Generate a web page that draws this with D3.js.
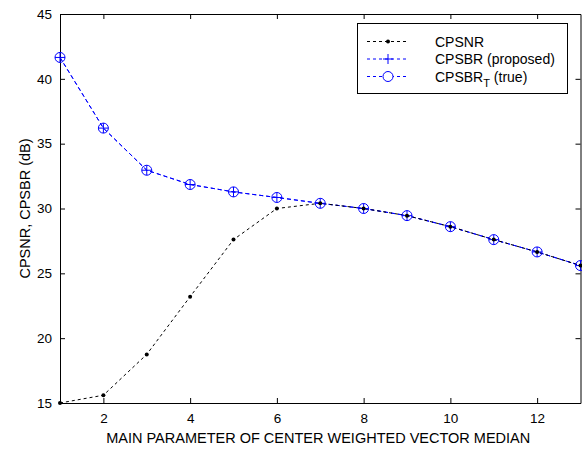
<!DOCTYPE html>
<html>
<head>
<meta charset="utf-8">
<script src="https://cdnjs.cloudflare.com/ajax/libs/d3/7.8.5/d3.min.js"></script>
<style>
  body { margin: 0; background: #fff; }
  text { font-family: "Liberation Sans", Arial, sans-serif; fill: #000; }
</style>
</head>
<body>
<div id="viz"></div>
<script>
var params = [1, 2, 3, 4, 5, 6, 7, 8, 9, 10, 11, 12, 13]
var cpsnr = [15.0, 15.6, 18.75, 23.2, 27.6, 30.0, 30.4, 30.0, 29.45, 28.6, 27.6, 26.65, 25.6]
var cpsbr = [41.65, 36.2, 32.95, 31.85, 31.28, 30.85, 30.4, 30.0, 29.45, 28.6, 27.6, 26.65, 25.6]
var cpsbrTrue = [41.65, 36.2, 32.95, 31.85, 31.28, 30.85, 30.4, 30.0, 29.45, 28.6, 27.6, 26.65, 25.6]
var xTicks = [2, 4, 6, 8, 10, 12]
var yTicks = [15, 20, 25, 30, 35, 40, 45]

var margin = {top: 14, bottom: 46, left: 60, right: 1.5};
var W = 582, H = 449,
    width = W - margin.left - margin.right,
    height = H - margin.top - margin.bottom;

var blue = '#0000ff';

var svg = d3.select('#viz').append('svg')
  .attr('width', W)
  .attr('height', H)

var g = svg.append('g')
  .attr('transform', 'translate(' + margin.left + ',' + margin.top + ')')

var xScale = d3.scaleLinear().domain([1, 13]).range([0, width])
var yScale = d3.scaleLinear().domain([15, 45]).range([height, 0])

g.append('clipPath').attr('id', 'clip')
  .append('rect').attr('x', 0).attr('y', 0).attr('width', width).attr('height', height)

// axes, ticks pointing inward like matlab
var xBottom = d3.axisBottom(xScale).tickValues(xTicks).tickSizeInner(-5).tickSizeOuter(0).tickPadding(10)
var xTop = d3.axisTop(xScale).tickValues(xTicks).tickSizeInner(-5).tickSizeOuter(0).tickFormat('')
var yLeft = d3.axisLeft(yScale).tickValues(yTicks).tickSizeInner(-5).tickSizeOuter(0).tickPadding(8)
var yRight = d3.axisRight(yScale).tickValues(yTicks).tickSizeInner(-5).tickSizeOuter(0).tickFormat('')

function styleAxis(sel) {
  sel.selectAll('path').attr('stroke', '#000')
  sel.selectAll('line').attr('stroke', '#000')
  sel.selectAll('text').style('font-size', '13.5px').attr('fill', '#000')
}

g.append('g').attr('transform', 'translate(0,' + height + ')').call(xBottom).call(styleAxis)
g.append('g').call(xTop).call(styleAxis)
g.append('g').call(yLeft).call(styleAxis)
g.append('g').attr('transform', 'translate(' + width + ',0)').call(yRight).call(styleAxis)

svg.selectAll('.domain').attr('stroke-width', 1)

// axis labels
svg.append('text')
  .attr('x', margin.left + width / 2 - 2)
  .attr('y', 443)
  .attr('text-anchor', 'middle')
  .style('font-size', '14.5px')
  .text('MAIN PARAMETER OF CENTER WEIGHTED VECTOR MEDIAN')

svg.append('text')
  .attr('transform', 'translate(30,' + (margin.top + height / 2) + ') rotate(-90)')
  .attr('text-anchor', 'middle')
  .style('font-size', '14.5px')
  .text('CPSNR, CPSBR (dB)')

var plot = g.append('g').attr('clip-path', 'url(#clip)')

function lineFor(vals) {
  return d3.line()
    .x(function(d, i) { return xScale(params[i]); })
    .y(function(d) { return yScale(d); })(vals)
}

// blue series
plot.append('path')
  .attr('d', lineFor(cpsbrTrue))
  .attr('fill', 'none')
  .attr('stroke', blue)
  .attr('stroke-dasharray', '4,3')
plot.append('path')
  .attr('d', lineFor(cpsbr))
  .attr('fill', 'none')
  .attr('stroke', blue)
  .attr('stroke-dasharray', '4,3')

g.selectAll('.circ').data(cpsbrTrue).enter().append('circle')
  .attr('cx', function(d, i) { return xScale(params[i]); })
  .attr('cy', function(d) { return yScale(d); })
  .attr('r', 5)
  .attr('fill', 'none')
  .attr('stroke', blue)

g.selectAll('.plus').data(cpsbr).enter().append('path')
  .attr('d', function(d, i) {
    var x = xScale(params[i]), y = yScale(d);
    return 'M' + (x - 5) + ',' + y + 'H' + (x + 5) + 'M' + x + ',' + (y - 5) + 'V' + (y + 5);
  })
  .attr('stroke', blue)

// black series
plot.append('path')
  .attr('d', lineFor(cpsnr))
  .attr('fill', 'none')
  .attr('stroke', '#000')
  .attr('stroke-dasharray', '3,3')

g.selectAll('.dot').data(cpsnr).enter().append('circle')
  .attr('cx', function(d, i) { return xScale(params[i]); })
  .attr('cy', function(d) { return yScale(d); })
  .attr('r', 2)
  .attr('fill', '#000')

// legend
var leg = svg.append('g')
leg.append('rect')
  .attr('x', 357.5).attr('y', 23.5).attr('width', 210).attr('height', 70)
  .attr('fill', '#fff').attr('stroke', '#000')

var legItems = [
  {label: 'CPSNR', color: '#000', mark: 'dot'},
  {label: 'CPSBR (proposed)', color: blue, mark: 'plus'},
  {label: 'CPSBR', sub: 'T', rest: ' (true)', color: blue, mark: 'circle'}
]

legItems.forEach(function(d, i) {
  var y = 41.5 + i * 17.5
  leg.append('line')
    .attr('x1', 367).attr('x2', 406).attr('y1', y).attr('y2', y)
    .attr('stroke', d.color).attr('stroke-dasharray', '3,3')
  if (d.mark == 'dot') {
    leg.append('circle').attr('cx', 388).attr('cy', y).attr('r', 2).attr('fill', '#000')
  } else if (d.mark == 'plus') {
    leg.append('path')
      .attr('d', 'M383,' + y + 'H393M388,' + (y - 5) + 'V' + (y + 5))
      .attr('stroke', blue)
  } else {
    leg.append('circle').attr('cx', 388).attr('cy', y).attr('r', 5)
      .attr('fill', '#fff').attr('stroke', blue)
  }
  var t = leg.append('text')
    .attr('x', 435).attr('y', y + 5)
    .style('font-size', '14px')
  t.append('tspan').text(d.label)
  if (d.sub) {
    t.append('tspan').attr('dy', 5).attr('fill', '#000').style('font-size', '11px').text(d.sub)
    t.append('tspan').attr('dy', -5).attr('fill', '#000').text(d.rest)
  }
})
</script>
</body>
</html>
